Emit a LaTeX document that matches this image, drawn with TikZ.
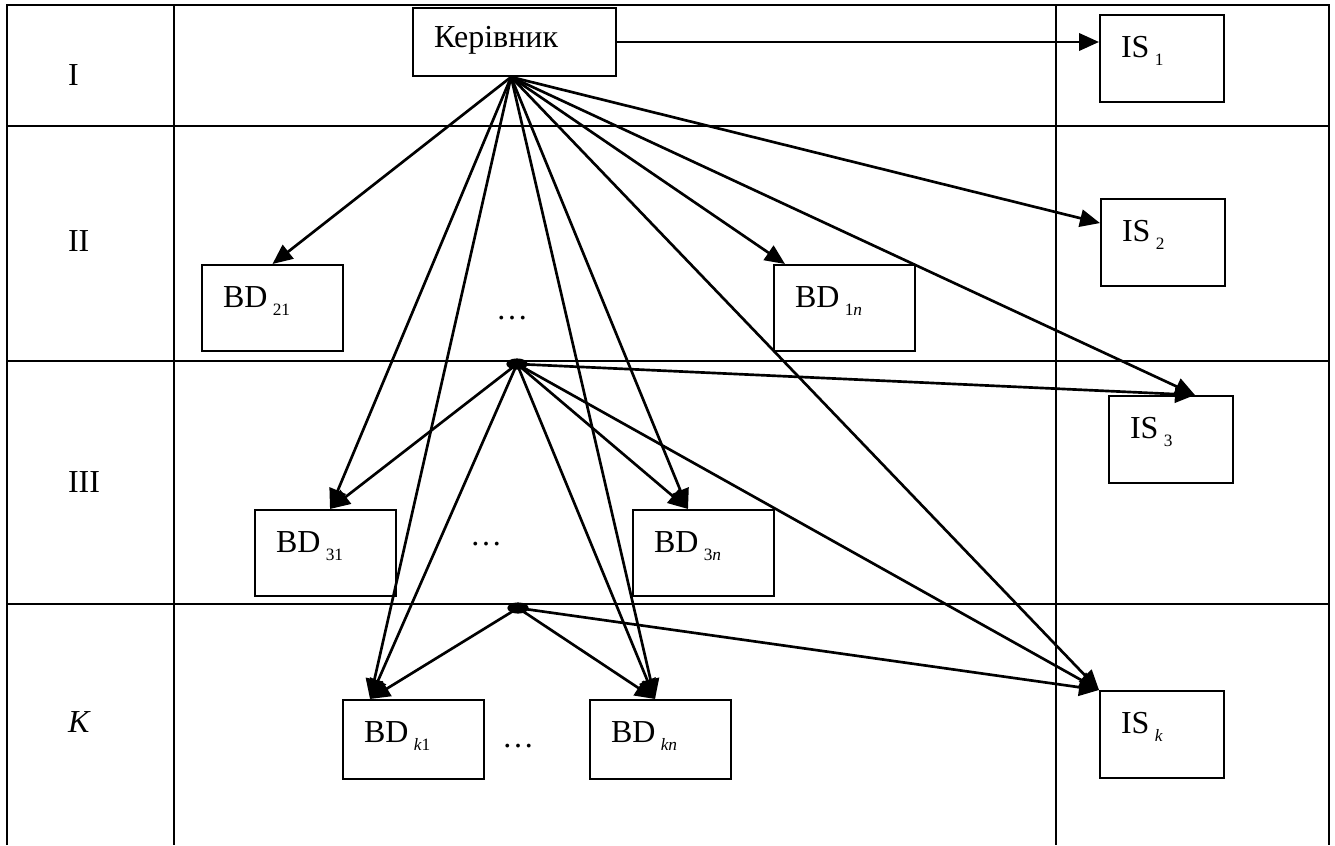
\documentclass[tikz,border=0pt,12pt]{standalone}
\usepackage{fontspec}
\setmainfont{Liberation Serif}
\usetikzlibrary{arrows.meta,shapes.geometric}
\newcommand\lsub[1]{\hspace{2pt}\raisebox{-3pt}{\fontsize{6.5}{7}\selectfont #1}}

\begin{document}
\begin{tikzpicture}[x=0.375pt,y=-0.375pt,line width=0.75pt,
  box/.style={draw,line width=0.75pt,anchor=north west,inner xsep=7.875pt,inner ysep=0pt,align=left},
  bdbox/.style={box,text width=37.1pt,text height=15.75pt,text depth=16.5pt},
  bdkbox/.style={box,text width=37.1pt,text height=16.1pt,text depth=13.5pt},
  isbox/.style={box,text width=30.75pt,text height=16.1pt,text depth=16.5pt},
  blob/.style={ellipse,fill,inner sep=0pt,minimum width=8pt,minimum height=4.2pt},
  arr/.style={-{Triangle[length=7.5pt,width=6.5pt]},line width=1pt},
  lvl/.style={anchor=west,inner sep=0pt}]
  \useasboundingbox (0,0) rectangle (1335,845);

  % table
  \draw (7,845) -- (7,5) -- (1329,5) -- (1329,845);
  \draw (174,5) -- (174,845);
  \draw (1056,5) -- (1056,845);
  \foreach \y in {126,361,604}
    \draw (7,\y) -- (1329,\y);

  \node[lvl] (lv1) at (67,75) {I};
  \node[lvl] (lv2) at (67,241) {II};
  \node[lvl] (lv3) at (67,482) {III};
  \node[lvl] (lvk) at (67,722) {\textit{K}};

  % boxes
  \node[box,text width=60.4pt,text height=15pt,text depth=10.5pt] (ker) at (412,7) {Керівник};
  \node[isbox] (is1) at (1099,14) {IS\lsub{1}};
  \node[isbox] (is2) at (1100,198) {IS\lsub{2}};
  \node[isbox] (is3) at (1108,395) {IS\lsub{3}};
  \node[isbox] (isk) at (1099,690) {IS\lsub{\textit{k}}};
  \node[bdbox] (bd21) at (201,264) {BD\lsub{21}};
  \node[bdbox] (bd1n) at (773,264) {BD\lsub{1\textit{n}}};
  \node[bdbox] (bd31) at (254,509) {BD\lsub{31}};
  \node[bdbox] (bd3n) at (632,509) {BD\lsub{3\textit{n}}};
  \node[bdkbox] (bdk1) at (342,699) {BD\lsub{\textit{k}1}};
  \node[bdkbox] (bdkn) at (589,699) {BD\lsub{\textit{kn}}};

  \node (dots2) at (512,318) {\ldots};
  \node (dots3) at (486,544) {\ldots};
  \node (dotsk) at (518,746) {\ldots};

  \node[blob] (j1) at (517,364) {};
  \node[blob] (j2) at (518,608) {};

  \coordinate (apex) at ([xshift=-1.3pt]ker.south);
  \coordinate (t1n) at ([xshift=4.5pt]bd1n.north west);
  \coordinate (t31) at ([xshift=28.5pt]bd31.north west);
  \coordinate (t3n) at ([xshift=21pt]bd3n.north west);
  \coordinate (tk1) at ([xshift=10.5pt]bdk1.north west);
  \coordinate (tkn) at ([xshift=24.75pt]bdkn.north west);
  \coordinate (ti2) at ([yshift=-9.4pt]is2.north west);
  \coordinate (ti3) at ([xshift=32.6pt]is3.north west);

  % arrows
  \draw[arr] (ker.east) -- (ker.east -| is1.west);
  \draw[arr] (apex) -- (bd21.north);
  \draw[arr] (apex) -- (t1n);
  \draw[arr] (apex) -- (t31);
  \draw[arr] (apex) -- (t3n);
  \draw[arr] (apex) -- (tk1);
  \draw[arr] (apex) -- (tkn);
  \draw[arr] (apex) -- (ti2);
  \draw[arr] (apex) -- (ti3);
  \draw[arr] (apex) -- (isk.north west);

  \draw[arr] (j1.center) -- (t31);
  \draw[arr] (j1.center) -- (tk1);
  \draw[arr] (j1.center) -- (t3n);
  \draw[arr] (j1.center) -- (tkn);
  \draw[arr] (j1.center) -- (ti3);
  \draw[arr] (j1.center) -- (isk.north west);

  \draw[arr] (j2.center) -- (tk1);
  \draw[arr] (j2.center) -- (tkn);
  \draw[arr] (j2.center) -- (isk.north west);
\end{tikzpicture}
\end{document}
